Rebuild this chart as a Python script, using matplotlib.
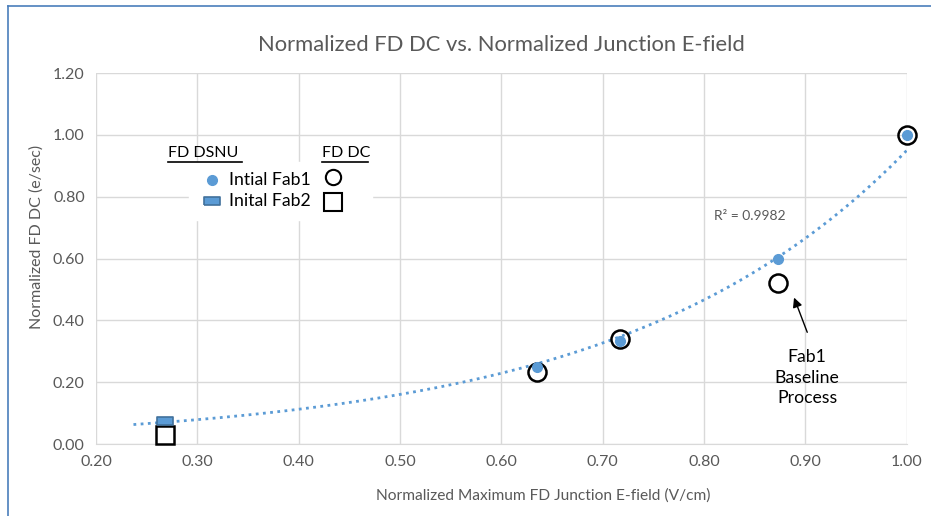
import matplotlib.pyplot as plt
from matplotlib.lines import Line2D
import numpy as np

plt.rcParams['font.family'] = ['Lato', 'DejaVu Sans']

# data
fab1_x = [0.635, 0.717, 0.873, 1.00]
fab1_y = [0.249, 0.333, 0.599, 1.00]
fab2_x = [0.268]
fab2_y = [0.073]
dc1_x = [0.635, 0.717, 0.873, 1.00]
dc1_y = [0.233, 0.340, 0.521, 1.00]
dc2_x = [0.268]
dc2_y = [0.029]
xticks = [0.20, 0.30, 0.40, 0.50, 0.60, 0.70, 0.80, 0.90, 1.00]
yticks = [0.00, 0.20, 0.40, 0.60, 0.80, 1.00, 1.20]
trend_start = 0.237
r2_label = 'R² = 0.9982'

blue = '#5B9BD5'
grey = '#595959'
gridc = '#D9D9D9'

fig = plt.figure(figsize=(9.31, 5.16), dpi=100)
ax = fig.add_axes([0.1031, 0.1395, 0.8706, 0.719])

# exponential trendline through the DSNU points
fx = np.array(fab1_x + fab2_x)
fy = np.array(fab1_y + fab2_y)
b, lna = np.polyfit(fx, np.log(fy), 1)
xt = np.linspace(trend_start, 1.0, 200)
ax.plot(xt, np.exp(lna + b * xt), ls=(0, (1, 1.6)), color=blue, lw=2, zorder=2)

rect = [(-1, -0.5), (1, -0.5), (1, 0.5), (-1, 0.5), (-1, -0.5)]
ax.plot(dc1_x, dc1_y, 'o', ms=13, mfc='none', mec='black', mew=1.8, zorder=3, clip_on=False)
ax.plot(dc2_x, dc2_y, 's', ms=12.5, mfc='white', mec='black', mew=1.8, zorder=3, clip_on=False)
ax.plot(fab2_x, fab2_y, marker=rect, ls='none', ms=12, mfc=blue, mec='#41719C', mew=1.2, zorder=4)
ax.plot(fab1_x, fab1_y, 'o', ms=7, color=blue, zorder=4, clip_on=False)

ax.set_xlim(0.20, 1.00)
ax.set_ylim(0.00, 1.20)
ax.set_xticks(xticks)
ax.set_yticks(yticks)
ax.set_xticklabels(['%.2f' % v for v in xticks])
ax.set_yticklabels(['%.2f' % v for v in yticks])
ax.tick_params(length=0, colors=grey, labelsize=11.5, pad=8)
ax.grid(True, color=gridc, lw=1)
ax.set_axisbelow(True)
for s in ['top', 'right', 'left']:
    ax.spines[s].set_visible(False)
ax.spines['bottom'].set_color(gridc)

ax.set_title('Normalized FD DC vs. Normalized Junction E-field', color=grey, fontsize=15.8, pad=16)
ax.set_xlabel('Normalized Maximum FD Junction E-field (V/cm)', color=grey, fontsize=11.2)
ax.set_ylabel('Normalized FD DC (e/sec)', color=grey, fontsize=11.5)
ax.xaxis.set_label_coords(0.552, -0.12)
ax.yaxis.set_label_coords(-0.064, 0.558)

ax.text(0.81, 0.738, r2_label, color=grey, fontsize=10, va='center')

ax.annotate('', xy=(0.888, 0.482), xytext=(0.903, 0.353),
            arrowprops=dict(arrowstyle='-|>', color='black', lw=1, mutation_scale=14))
ax.text(0.902, 0.214, 'Fab1\nBaseline\nProcess', ha='center', va='center', fontsize=12.7, linespacing=1.35)

# hand-made legend block
box = plt.Rectangle((0.115, 0.605), 0.225, 0.155, transform=ax.transAxes, color='white', zorder=1.5)
ax.add_patch(box)
ax.text(0.089, 0.785, 'FD DSNU', transform=ax.transAxes, fontsize=11.5, va='center', zorder=5)
ax.text(0.279, 0.785, 'FD DC', transform=ax.transAxes, fontsize=11.5, va='center', zorder=5)
ax.add_line(Line2D([0.089, 0.180], [0.760, 0.760], transform=ax.transAxes, color='black', lw=1.2))
ax.add_line(Line2D([0.279, 0.336], [0.760, 0.760], transform=ax.transAxes, color='black', lw=1.2))
ax.plot([0.143], [0.712], 'o', ms=7, color=blue, transform=ax.transAxes, zorder=5)
ax.plot([0.143], [0.655], marker=rect, ms=12, mfc=blue, mec='#41719C', mew=1.2, transform=ax.transAxes, zorder=5)
ax.text(0.164, 0.712, 'Intial Fab1', transform=ax.transAxes, fontsize=12.7, va='center', zorder=5)
ax.text(0.164, 0.655, 'Inital Fab2', transform=ax.transAxes, fontsize=12.7, va='center', zorder=5)
ax.plot([0.292], [0.72], 'o', ms=11, mfc='none', mec='black', mew=1.5, transform=ax.transAxes, zorder=5)
ax.plot([0.292], [0.652], 's', ms=13, mfc='white', mec='black', mew=1.5, transform=ax.transAxes, zorder=5)

# chart frame edges seen on the left and top
fig.add_artist(Line2D([8 / 931, 8 / 931], [0, 1 - 6 / 516], color='#4A7EBB', lw=1.2))
fig.add_artist(Line2D([8 / 931, 1], [1 - 6 / 516, 1 - 6 / 516], color='#4A7EBB', lw=1.2))

fig.savefig('out.png', dpi=100)
